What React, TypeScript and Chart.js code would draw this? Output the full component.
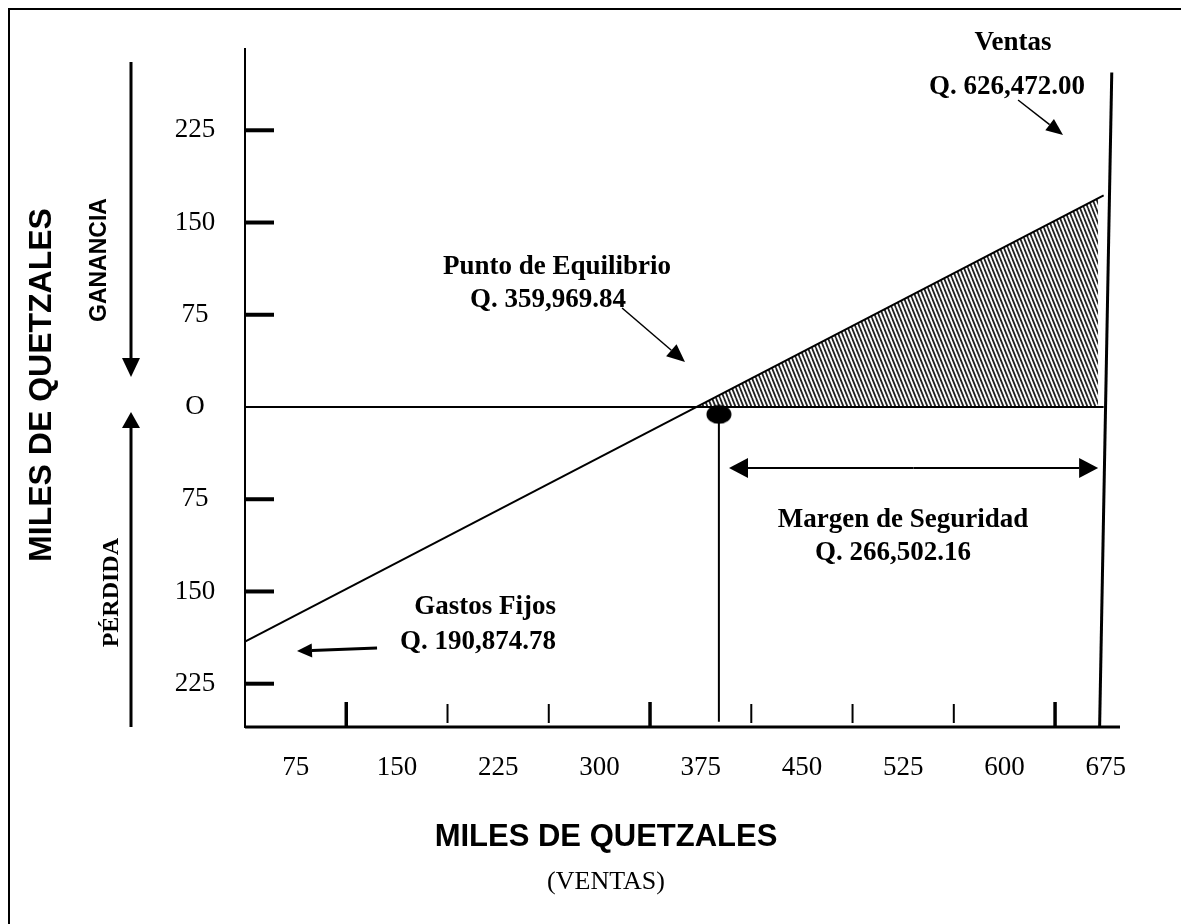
import React, { useEffect, useRef } from "react";
import { Chart, registerables } from "chart.js";

Chart.register(...registerables);

const SERIF = "'Liberation Serif', 'Times New Roman', serif";
const SANS = "'Liberation Sans', Arial, sans-serif";

// ---- Data (miles de quetzales) ----
const xTickValues = [75, 150, 225, 300, 375, 450, 525, 600];
const xThickTicks = [75, 300, 600];
const xTickLabels = ["75", "150", "225", "300", "375", "450", "525", "600", "675"];
const yTickValues = [225, 150, 75, 0, -75, -150, -225];
const yTickLabels = ["225", "150", "75", "O", "75", "150", "225"];

const zeroLine = [
  { x: 0, y: 0 },
  { x: 636, y: 0 },
];
const profitLine = [
  { x: 0, y: -190.87 },
  { x: 636, y: 172 },
];
const profitArea = [
  { x: 334, y: 0 },
  { x: 632, y: 170 },
];
const ventasLine = [
  { x: 642, y: 272 },
  { x: 633, y: -260 },
];
const equilibrioPoint = [{ x: 351, y: -6 }];
const equilibrioDrop = [
  { x: 351, y: -6 },
  { x: 351, y: -256 },
];
const margenRange = [358.5, 631.9];

function drawText(ctx: CanvasRenderingContext2D, s: string, x: number, y: number, font: string, rot = 0) {
  ctx.save();
  ctx.translate(x, y);
  if (rot) ctx.rotate(rot);
  ctx.font = font;
  ctx.fillStyle = "#000";
  ctx.textAlign = "center";
  ctx.textBaseline = "middle";
  ctx.fillText(s, 0, 0);
  ctx.restore();
}

function drawLine(ctx: CanvasRenderingContext2D, x1: number, y1: number, x2: number, y2: number, w: number) {
  ctx.save();
  ctx.strokeStyle = "#000";
  ctx.lineWidth = w;
  ctx.beginPath();
  ctx.moveTo(x1, y1);
  ctx.lineTo(x2, y2);
  ctx.stroke();
  ctx.restore();
}

function drawArrow(
  ctx: CanvasRenderingContext2D,
  x1: number,
  y1: number,
  x2: number,
  y2: number,
  w: number,
  len: number,
  half: number
) {
  const ang = Math.atan2(y2 - y1, x2 - x1);
  const bx = x2 - Math.cos(ang) * len;
  const by = y2 - Math.sin(ang) * len;
  drawLine(ctx, x1, y1, bx, by, w);
  ctx.save();
  ctx.fillStyle = "#000";
  ctx.beginPath();
  ctx.moveTo(x2, y2);
  ctx.lineTo(bx + Math.sin(ang) * half, by - Math.cos(ang) * half);
  ctx.lineTo(bx - Math.sin(ang) * half, by + Math.cos(ang) * half);
  ctx.closePath();
  ctx.fill();
  ctx.restore();
}

const decorPlugin = {
  id: "breakEvenDecor",
  afterDraw(chart: any) {
    const { ctx, chartArea: a, scales } = chart;
    const X = (v: number) => scales.x.getPixelForValue(v);
    const Y = (v: number) => scales.y.getPixelForValue(v);
    const bold = (px: number, fam: string) => `bold ${px}px ${fam}`;

    ctx.save();
    // frame (left and top edges visible)
    ctx.fillStyle = "#000";
    ctx.fillRect(0, 0, chart.width, 2);
    ctx.fillRect(0, 0, 2, chart.height);

    // axes
    drawLine(ctx, a.left, a.top, a.left, a.bottom + 1, 2);
    drawLine(ctx, a.left, a.bottom, a.right, a.bottom, 3);

    // y ticks + labels
    yTickValues.forEach((v, i) => {
      const py = Y(v);
      if (v !== 0) drawLine(ctx, a.left, py, a.left + 29, py, 4);
      drawText(ctx, yTickLabels[i], a.left - 50, py, `27px ${SERIF}`);
    });

    // x ticks
    xTickValues.forEach((v) => {
      const px = X(v);
      if (xThickTicks.includes(v)) drawLine(ctx, px, a.bottom, px, a.bottom - 25, 3.5);
      else drawLine(ctx, px, a.bottom - 4, px, a.bottom - 23, 2);
    });
    // x labels (centred between tick marks)
    xTickLabels.forEach((s) => {
      drawText(ctx, s, X(Number(s) - 37.5), a.bottom + 41, `27px ${SERIF}`);
    });

    // axis titles
    drawText(ctx, "MILES DE QUETZALES", X(267.4), a.bottom + 110, bold(31, SANS));
    drawText(ctx, "(VENTAS)", X(267.4), a.bottom + 155, `26px ${SERIF}`);
    drawText(ctx, "MILES DE QUETZALES", a.left - 203, Y(17.9), bold(32, SANS), -Math.PI / 2);
    drawText(ctx, "GANANCIA", a.left - 145, Y(119.5), bold(23, SANS), -Math.PI / 2);
    drawText(ctx, "PÉRDIDA", a.left - 133, Y(-151), bold(24, SERIF), -Math.PI / 2);

    // ganancia / pérdida arrows
    drawArrow(ctx, a.left - 114, Y(280.5), a.left - 114, Y(24.4), 3, 19, 9);
    drawArrow(ctx, a.left - 114, a.bottom, a.left - 114, Y(-4.1), 3, 16, 9);

    // annotations
    const f = bold(27, SERIF);
    drawText(ctx, "Ventas", X(568.9), Y(295.9), f);
    drawText(ctx, "Q. 626,472.00", X(564.4), Y(260.2), f);
    drawArrow(ctx, X(572.6), Y(249.6), X(605.9), Y(221.1), 1.5, 17, 7);

    drawText(ctx, "Punto de Equilibrio", X(231.1), Y(113.8), f);
    drawText(ctx, "Q. 359,969.84", X(224.4), Y(87), f);
    drawArrow(ctx, X(279.3), Y(80.5), X(325.9), Y(36.6), 1.5, 18, 8);

    drawText(ctx, "Margen de Seguridad", X(487.4), Y(-91.9), f);
    drawText(ctx, "Q. 266,502.16", X(480), Y(-118.7), f);
    const my = Y(-49.6);
    const mx1 = X(margenRange[0]);
    const mx2 = X(margenRange[1]);
    const mid = (mx1 + mx2) / 2;
    drawArrow(ctx, mid, my, mx1, my, 2, 19, 10);
    drawArrow(ctx, mid, my, mx2, my, 2, 19, 10);

    drawText(ctx, "Gastos Fijos", X(177.8), Y(-162.6), f);
    drawText(ctx, "Q. 190,874.78", X(172.6), Y(-191.1), f);
    drawArrow(ctx, X(97.8), Y(-195.9), X(38.5), Y(-198.4), 3, 15, 7);

    ctx.restore();
  },
};

export default function App() {
  const ref = useRef<HTMLCanvasElement>(null);

  useEffect(() => {
    const canvas = ref.current!;
    const c2d = canvas.getContext("2d")!;

    // hatch pattern
    const tile = document.createElement("canvas");
    tile.width = 4;
    tile.height = 10;
    const t = tile.getContext("2d")!;
    t.strokeStyle = "#222";
    t.lineWidth = 1.8;
    for (let k = -1; k <= 1; k++) {
      t.beginPath();
      t.moveTo(k * 4, 0);
      t.lineTo(k * 4 + 4, 10);
      t.stroke();
    }
    const pattern = c2d.createPattern(tile, "repeat")!;

    // elliptical point marker
    const dot = document.createElement("canvas");
    dot.width = 26;
    dot.height = 20;
    const d = dot.getContext("2d")!;
    d.fillStyle = "#000";
    d.beginPath();
    d.ellipse(13, 10, 12.5, 9.5, 0, 0, Math.PI * 2);
    d.fill();

    const lineDs = (data: any[], w: number) => ({
      data,
      showLine: true,
      borderColor: "#000",
      borderWidth: w,
      pointRadius: 0,
      fill: false,
      tension: 0,
    });

    const chart = new Chart(canvas, {
      type: "scatter",
      data: {
        datasets: [
          {
            data: equilibrioPoint,
            pointStyle: dot as any,
            pointRadius: 12,
            showLine: false,
          },
          lineDs(ventasLine, 3),
          lineDs(equilibrioDrop, 2),
          lineDs(profitLine, 2),
          lineDs(zeroLine, 2),
          {
            data: profitArea,
            showLine: true,
            borderWidth: 0,
            borderColor: "rgba(0,0,0,0)",
            pointRadius: 0,
            fill: "origin",
            backgroundColor: pattern as any,
          },
        ],
      },
      options: {
        animation: false,
        responsive: false,
        devicePixelRatio: 1,
        events: [],
        layout: { padding: { left: 237, right: 61, top: 40, bottom: 197 } },
        plugins: { legend: { display: false }, tooltip: { enabled: false } },
        scales: {
          x: { type: "linear", min: 0, max: 648.1, display: false },
          y: { type: "linear", min: -260.2, max: 291.9, display: false },
        },
      },
      plugins: [decorPlugin],
    });

    return () => chart.destroy();
  }, []);

  return (
    <canvas
      ref={ref}
      width={1173}
      height={916}
      style={{ display: "block", position: "fixed", left: 8, top: 8 }}
    />
  );
}
